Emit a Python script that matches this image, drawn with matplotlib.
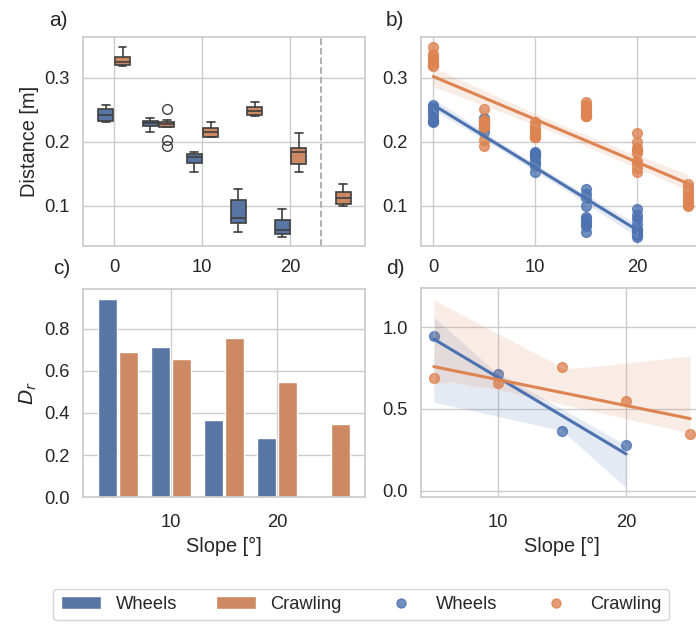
import numpy as np
import matplotlib
matplotlib.use("Agg")
import matplotlib.pyplot as plt
from matplotlib.lines import Line2D
import seaborn as sns

sns.set_theme(style="whitegrid", context="notebook", font_scale=1.2)
plt.rcParams['font.family'] = ['Liberation Sans', 'DejaVu Sans']

# distance per run, grouped by slope
slopes_w = [0, 5, 10, 15, 20]
slopes_c = [0, 5, 10, 15, 20, 25]

dist_wheels = [
    [0.231, 0.232, 0.232, 0.233, 0.240, 0.245, 0.250, 0.252, 0.254, 0.258],
    [0.216, 0.222, 0.225, 0.226, 0.228, 0.230, 0.231, 0.233, 0.235, 0.238],
    [0.153, 0.162, 0.167, 0.170, 0.176, 0.178, 0.179, 0.181, 0.183, 0.184],
    [0.060, 0.068, 0.072, 0.075, 0.079, 0.083, 0.100, 0.112, 0.118, 0.126],
    [0.052, 0.054, 0.056, 0.059, 0.062, 0.064, 0.072, 0.080, 0.086, 0.095],
]
dist_crawl = [
    [0.319, 0.320, 0.320, 0.321, 0.324, 0.326, 0.330, 0.334, 0.338, 0.349],
    [0.193, 0.203, 0.223, 0.224, 0.227, 0.229, 0.230, 0.232, 0.234, 0.252],
    [0.207, 0.208, 0.208, 0.210, 0.214, 0.216, 0.219, 0.222, 0.226, 0.231],
    [0.240, 0.241, 0.241, 0.244, 0.247, 0.249, 0.252, 0.255, 0.258, 0.262],
    [0.153, 0.160, 0.165, 0.170, 0.182, 0.186, 0.188, 0.191, 0.200, 0.214],
    [0.100, 0.101, 0.102, 0.106, 0.111, 0.115, 0.119, 0.123, 0.128, 0.135],
]

# D_r per slope
dr_slopes_w = [5, 10, 15, 20]
dr_wheels = [0.943, 0.714, 0.367, 0.280]
dr_slopes_c = [5, 10, 15, 20, 25]
dr_crawl = [0.690, 0.657, 0.757, 0.548, 0.348]

blue, orange = sns.color_palette("deep")[:2]
blue_d = sns.desaturate(blue, .75)
orange_d = sns.desaturate(orange, .75)
gray = "#3f3f3f"

fig = plt.figure(figsize=(6.96, 6.24), dpi=100)
ax_a = fig.add_axes([0.1193, 0.6058, 0.4052, 0.3349])
ax_b = fig.add_axes([0.6049, 0.6058, 0.4052, 0.3349])
ax_c = fig.add_axes([0.1193, 0.2035, 0.4052, 0.3333])
ax_d = fig.add_axes([0.6049, 0.2035, 0.4052, 0.3349])

# a) boxplots
def boxes(ax, data, pos, col):
    ax.boxplot(data, positions=pos, widths=1.7, patch_artist=True, manage_ticks=False,
               boxprops=dict(facecolor=col, edgecolor=gray, lw=1.2),
               medianprops=dict(color=gray, lw=1.2),
               whiskerprops=dict(color=gray, lw=1.2),
               capprops=dict(color=gray, lw=1.2),
               flierprops=dict(marker='o', mfc='none', mec=gray, ms=7))

boxes(ax_a, dist_wheels, np.array(slopes_w) - 0.9, blue_d)
boxes(ax_a, dist_crawl, np.array(slopes_c) + 1, orange_d)
ax_a.axvline(23.5, ls='--', color='#aaaaaa', lw=1.3)
ax_a.set_xlim(-3.5, 28.5)
ax_a.set_ylim(0.0375, 0.364)
ax_a.set_xticks([0, 10, 20])
ax_a.set_yticks([0.1, 0.2, 0.3])
ax_a.set_ylabel("Distance [m]")

# b) regression on raw distances
xw = np.repeat(slopes_w, [len(v) for v in dist_wheels])
yw = np.concatenate(dist_wheels)
xc = np.repeat(slopes_c, [len(v) for v in dist_crawl])
yc = np.concatenate(dist_crawl)
sns.regplot(x=xw, y=yw, ax=ax_b, color=blue, seed=0,
            scatter_kws=dict(s=50), line_kws=dict(lw=2.2))
sns.regplot(x=xc, y=yc, ax=ax_b, color=orange, seed=0,
            scatter_kws=dict(s=50), line_kws=dict(lw=2.2))
ax_b.set_xlim(-1.2, 26.5)
ax_b.set_ylim(0.0375, 0.364)
ax_b.set_xticks([0, 10, 20])
ax_b.set_yticks([0.1, 0.2, 0.3])

# c) bars
bars_w = ax_c.bar(np.array(dr_slopes_w) - 1, dr_wheels, width=1.8, color=blue_d)
bars_c = ax_c.bar(np.array(dr_slopes_c) + 1, dr_crawl, width=1.8, color=orange_d)
ax_c.set_xlim(1.7, 28.3)
ax_c.set_ylim(0, 0.99)
ax_c.set_xticks([10, 20])
ax_c.set_yticks([0, 0.2, 0.4, 0.6, 0.8])
ax_c.set_xlabel("Slope [°]")
ax_c.set_ylabel("$D_r$")

# d) regression on D_r
sns.regplot(x=dr_slopes_w, y=dr_wheels, ax=ax_d, color=blue, seed=0,
            scatter_kws=dict(s=50), line_kws=dict(lw=2.2))
sns.regplot(x=dr_slopes_c, y=dr_crawl, ax=ax_d, color=orange, seed=0,
            scatter_kws=dict(s=50), line_kws=dict(lw=2.2))
ax_d.set_xlim(4, 26)
ax_d.set_ylim(-0.037, 1.238)
ax_d.set_xticks([10, 20])
ax_d.set_yticks([0.0, 0.5, 1.0])
ax_d.set_xlabel("Slope [°]")

for ax in (ax_c, ax_d):
    ax.tick_params(axis='x', pad=plt.rcParams['xtick.major.pad'] + 3)

for t, (x, y) in zip(["a)", "b)", "c)", "d)"],
                     [(58, 20), (395, 20), (62, 268), (395, 268)]):
    fig.text(x / 696, 1 - y / 624, t, ha='center', va='center', fontsize=15)

dot_w = Line2D([], [], marker='o', ls='', color=blue, alpha=0.8, ms=6.5)
dot_c = Line2D([], [], marker='o', ls='', color=orange, alpha=0.8, ms=6.5)
fig.legend([bars_w, bars_c, dot_w, dot_c], ["Wheels", "Crawling", "Wheels", "Crawling"],
           ncol=4, loc='center', bbox_to_anchor=(0.519, 0.031),
           handlelength=2.2, columnspacing=2.1, fontsize=13.2)

fig.savefig("out.png", dpi=100)
